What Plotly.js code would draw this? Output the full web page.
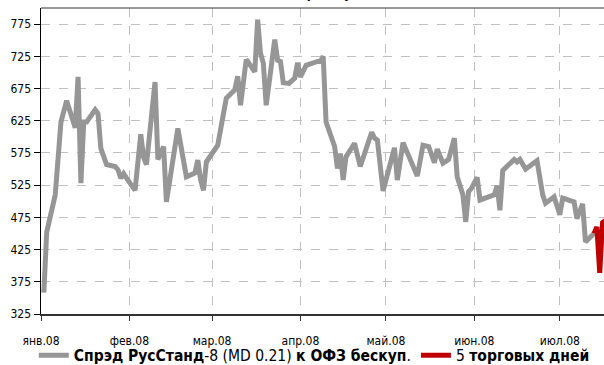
<!DOCTYPE html>
<html>
<head>
<meta charset="utf-8">
<script src="https://cdn.plot.ly/plotly-3.0.1.min.js"></script>
<style>html,body{margin:0;padding:0;background:#fff}#chart{width:604px;height:365px}</style>
</head>
<body>
<div id="chart"></div>
<script>
// Spread series (gray)
const spreadDates = [
 '2008-01-02','2008-01-03','2008-01-06','2008-01-08','2008-01-10','2008-01-13','2008-01-14','2008-01-15','2008-01-16','2008-01-17',
 '2008-01-20','2008-01-21','2008-01-22','2008-01-24','2008-01-27','2008-01-28','2008-01-29','2008-01-30','2008-01-31','2008-02-03',
 '2008-02-05','2008-02-06','2008-02-07','2008-02-10','2008-02-11','2008-02-13','2008-02-14','2008-02-18','2008-02-21','2008-02-24',
 '2008-02-25','2008-02-26','2008-02-27','2008-02-28','2008-03-03','2008-03-06','2008-03-09','2008-03-10','2008-03-11','2008-03-13',
 '2008-03-16','2008-03-17','2008-03-18','2008-03-19','2008-03-20','2008-03-23','2008-03-24','2008-03-25','2008-03-26','2008-03-28',
 '2008-03-30','2008-03-31','2008-04-01','2008-04-03','2008-04-07','2008-04-08','2008-04-09','2008-04-10','2008-04-13','2008-04-14',
 '2008-04-15','2008-04-16','2008-04-17','2008-04-20','2008-04-22','2008-04-26','2008-04-27','2008-04-28','2008-04-30','2008-05-04',
 '2008-05-05','2008-05-07','2008-05-12','2008-05-14','2008-05-16','2008-05-18','2008-05-19','2008-05-21','2008-05-23','2008-05-25',
 '2008-05-26','2008-05-28','2008-05-29','2008-05-30','2008-05-31','2008-06-02','2008-06-03','2008-06-08','2008-06-09','2008-06-10',
 '2008-06-11','2008-06-15','2008-06-16','2008-06-17','2008-06-19','2008-06-23','2008-06-25','2008-06-26','2008-06-29','2008-07-01',
 '2008-07-02','2008-07-06','2008-07-07','2008-07-09','2008-07-10','2008-07-13'
];
const spreadValues = [
 358,452,510,623,656,614,693,528,623,623,
 642,636,582,557,554,549,536,543,536,517,
 604,568,557,685,565,585,499,613,538,544,
 564,533,517,561,587,660,673,694,649,720,
 701,782,730,714,649,751,719,717,684,683,
 691,715,693,711,717,717,725,623,585,551,
 574,533,569,590,554,607,598,595,516,583,
 533,591,539,587,585,560,581,559,565,598,
 538,510,468,515,520,537,502,510,524,486,
 548,565,561,565,550,563,510,497,507,479,
 505,499,473,496,437,450
];
// Last 5 trading days (red)
const lastDates = ['2008-07-13','2008-07-14','2008-07-15','2008-07-16','2008-07-17'];
const lastValues = [450,460,389,467,470];

const monthTicks = ['2008-01-01','2008-02-01','2008-03-01','2008-04-01','2008-05-01','2008-06-01','2008-07-01'];
const monthLabels = ['янв.08','фев.08','мар.08','апр.08','май.08','июн.08','июл.08'];

const FONT = 'Liberation Sans Narrow, DejaVu Sans Condensed, Arial Narrow, sans-serif';

const traces = [
 {x: spreadDates, y: spreadValues, type: 'scatter', mode: 'lines',
  name: '<b>Спрэд РусСтанд</b>-8 (MD 0.21) <b>к ОФЗ бескуп</b>.',
  line: {color: '#969696', width: 5}, hoverinfo: 'skip'},
 {x: lastDates, y: lastValues, type: 'scatter', mode: 'lines',
  name: '5 <b>торговых дней</b>',
  line: {color: '#C00000', width: 5}, hoverinfo: 'skip'}
];

const layout = {
 width: 604, height: 365,
 margin: {l: 41, r: 0, t: 8, b: 51, autoexpand: false},
 paper_bgcolor: '#fff', plot_bgcolor: '#fff',
 font: {family: FONT, size: 12, color: '#000'},
 showlegend: true,
 legend: {orientation: 'h', x: 0.06 - 41/563, y: -0.081, xanchor: 'left', yanchor: 'top',
  font: {family: FONT, size: 15.5, color: '#000'}, bgcolor: 'rgba(0,0,0,0)', tracegroupgap: 0, itemwidth: 30},
 xaxis: {type: 'date', range: ['2008-01-01', '2008-07-16 12:00'],
  tickmode: 'array', tickvals: monthTicks, ticktext: monthLabels,
  showgrid: true, gridcolor: '#c0c0c0', griddash: 'dash', gridwidth: 1,
  showline: true, linecolor: '#333', linewidth: 2,
  ticks: 'outside', ticklen: 5, tickcolor: '#333', tickwidth: 1, ticklabelstandoff: 10,
  tickfont: {family: FONT, size: 12, color: '#000'}, zeroline: false, fixedrange: true},
 yaxis: {range: [325, 800], tickmode: 'linear', tick0: 325, dtick: 50,
  showgrid: true, gridcolor: '#c0c0c0', griddash: 'dash', gridwidth: 1,
  showline: true, linecolor: '#000', linewidth: 1.5,
  ticks: 'outside', ticklen: 6, tickcolor: '#000', tickwidth: 1,
  tickfont: {family: FONT, size: 12, color: '#000'}, zeroline: false, fixedrange: true},
 shapes: [{type: 'line', xref: 'paper', yref: 'paper', x0: 0, x1: 1, y0: 1, y1: 1, line: {color: '#333', width: 1}}],
 annotations: [{text: '<b>Спрэд РусСтанд-8</b>', xref: 'paper', yref: 'paper', x: 0.55, y: 1, xanchor: 'center', yanchor: 'bottom',
  yshift: 5, showarrow: false, font: {family: FONT, size: 13, color: '#000'}}]
};

Plotly.newPlot('chart', traces, layout, {displayModeBar: false, staticPlot: true});
</script>
</body>
</html>
